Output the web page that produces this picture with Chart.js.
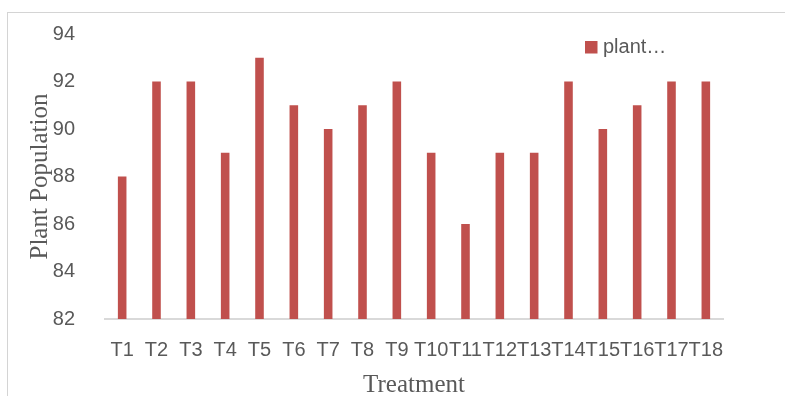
<!DOCTYPE html>
<html>
<head>
<meta charset="utf-8">
<script src="https://cdn.jsdelivr.net/npm/chart.js@4/dist/chart.umd.min.js"></script>
<style>
  html, body { margin: 0; padding: 0; background: #fff; overflow: hidden; }
  #wrap { position: relative; width: 785px; height: 396px; }
  #frame { position: absolute; left: 7px; top: 12px; width: 800px; height: 400px;
           border-top: 1px solid #d4d4d4; border-left: 1px solid #d4d4d4; }
  canvas { position: absolute; left: 0; top: 0; }
</style>
</head>
<body>
<div id="wrap">
  <div id="frame"></div>
  <canvas id="c" width="785" height="396"></canvas>
</div>
<script>
// Treatments and plant population per treatment
const treatments = ['T1','T2','T3','T4','T5','T6','T7','T8','T9','T10','T11','T12','T13','T14','T15','T16','T17','T18'];
const plantPopulation = [88, 92, 92, 89, 93, 91, 90, 91, 92, 89, 86, 89, 89, 92, 90, 91, 92, 92];
const seriesName = 'plant…';
const yMin = 82, yMax = 94, yStep = 2;

const barColor = '#C0504D';
const textColor = '#595959';
const sansFont = "'Liberation Sans', Arial, sans-serif";
const serifFont = "'Liberation Serif', 'Times New Roman', serif";

// Small legend drawn inside the plot, top right
const insideLegend = {
  id: 'insideLegend',
  afterDraw(chart) {
    const ctx = chart.ctx;
    const ds = chart.data.datasets[0];
    ctx.save();
    ctx.fillStyle = ds.backgroundColor;
    ctx.fillRect(585, 41, 12.5, 12.5);
    ctx.fillStyle = textColor;
    ctx.font = "20px " + sansFont;
    ctx.textBaseline = 'middle';
    ctx.textAlign = 'left';
    ctx.fillText(ds.label, 603, 47.5);
    ctx.restore();
  }
};

new Chart(document.getElementById('c'), {
  type: 'bar',
  data: {
    labels: treatments,
    datasets: [{
      label: seriesName,
      data: plantPopulation,
      backgroundColor: barColor,
      borderWidth: 0,
      barPercentage: 0.25,
      categoryPercentage: 1.0
    }]
  },
  options: {
    responsive: false,
    animation: false,
    layout: { padding: { left: 0, right: 62, top: 32, bottom: 0 } },
    plugins: {
      legend: { display: false },
      tooltip: { enabled: false },
      title: { display: false }
    },
    scales: {
      x: {
        grid: { display: false },
        border: { display: true, color: '#d9d9d9', width: 2 },
        ticks: {
          color: textColor,
          font: { family: sansFont, size: 20 },
          padding: 11,
          autoSkip: false,
          maxRotation: 0,
          minRotation: 0
        },
        title: {
          display: true,
          text: 'Treatment',
          color: textColor,
          font: { family: serifFont, size: 25, lineHeight: 1 },
          padding: { top: 0, bottom: -2 }
        },
        afterFit(scale) { scale.height = 77; }
      },
      y: {
        min: yMin,
        max: yMax,
        grid: { display: false },
        border: { display: false },
        ticks: {
          stepSize: yStep,
          color: textColor,
          font: { family: sansFont, size: 20 },
          padding: 22
        },
        title: {
          display: true,
          text: 'Plant Population',
          color: textColor,
          font: { family: serifFont, size: 25, lineHeight: 1 },
          padding: { top: 28, bottom: 0 }
        },
        afterFit(scale) { scale.width = 105; }
      }
    }
  },
  plugins: [insideLegend]
});
</script>
</body>
</html>
